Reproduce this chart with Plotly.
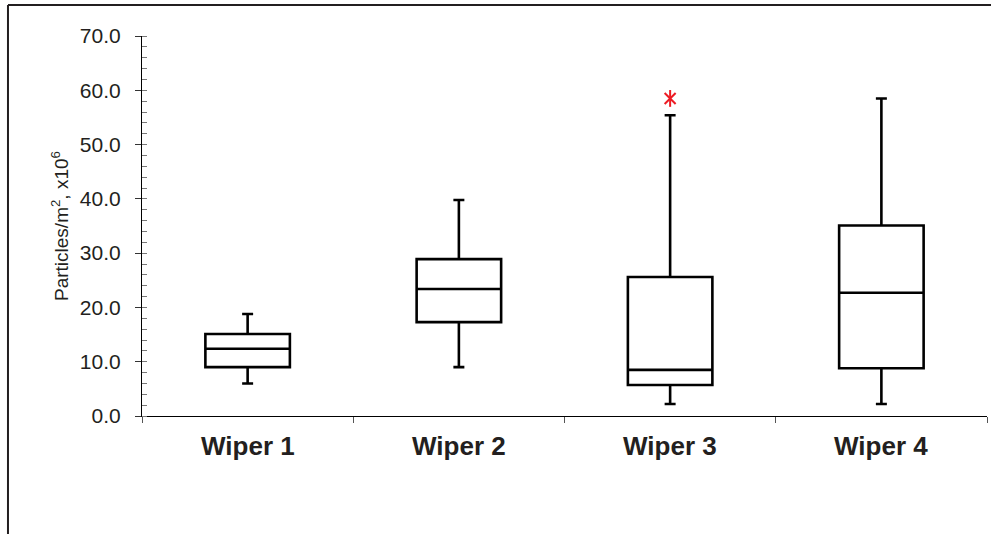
import plotly.graph_objects as go

categories = ["Wiper 1", "Wiper 2", "Wiper 3", "Wiper 4"]
lower_whisker = [6.0, 9.0, 2.2, 2.2]
q1_values = [9.0, 17.3, 5.7, 8.8]
medians = [12.4, 23.4, 8.5, 22.7]
q3_values = [15.1, 28.9, 25.6, 35.1]
upper_whisker = [18.8, 39.8, 55.4, 58.5]
outlier_category = [2]
outlier_values = [58.5]

y_ticks = [0, 10, 20, 30, 40, 50, 60, 70]
y_tick_text = [f"{v:.1f}" for v in y_ticks]

xpos = list(range(len(categories)))
boundaries = [i - 0.5 for i in range(len(categories) + 1)]

INK = "#231f20"
FONT = "Liberation Sans, Arial, sans-serif"
RED = "#ed1c24"

fig = go.Figure()
fig.add_trace(go.Box(
    x=xpos,
    q1=q1_values, median=medians, q3=q3_values,
    lowerfence=lower_whisker, upperfence=upper_whisker,
    width=0.40, whiskerwidth=0.13,
    fillcolor="white",
    line=dict(color="black", width=2.6),
    boxpoints=False,
    showlegend=False,
    hoverinfo="skip",
))
# outlier asterisk (vertical bar + x)
fig.add_trace(go.Scatter(
    x=outlier_category, y=outlier_values, mode="markers",
    marker=dict(symbol="x-thin-open", size=11, color=RED, line=dict(color=RED, width=2)),
    showlegend=False, hoverinfo="skip",
))
fig.add_trace(go.Scatter(
    x=outlier_category, y=outlier_values, mode="markers",
    marker=dict(symbol="line-ns-open", size=12, color=RED, line=dict(color=RED, width=2)),
    showlegend=False, hoverinfo="skip",
))

annotations = [
    dict(x=xv, y=0, xref="x", yref="paper", text=f"<b>{c}</b>",
         showarrow=False, yanchor="top", xanchor="center", yshift=-13,
         font=dict(family=FONT, size=26, color=INK))
    for xv, c in zip(xpos, categories)
]

fig.update_layout(
    width=991, height=534,
    margin=dict(l=142, r=4, t=36, b=118),
    paper_bgcolor="white", plot_bgcolor="white",
    font=dict(family=FONT, color=INK),
    annotations=annotations,
    xaxis=dict(
        range=[-0.5, 3.5], showgrid=False, zeroline=False,
        showline=True, linecolor="black", linewidth=1.2,
        tickmode="array", tickvals=boundaries, showticklabels=False,
        ticks="outside", ticklen=6, tickcolor="#555", tickwidth=1,
    ),
    yaxis=dict(
        range=[0, 70], showgrid=False, zeroline=False,
        showline=True, linecolor="black", linewidth=1.2,
        tickmode="array", tickvals=y_ticks, ticktext=y_tick_text,
        ticks="outside", ticklen=6, tickcolor="#333", tickwidth=1,
        ticklabelstandoff=10,
        tickfont=dict(family=FONT, size=21, color=INK),
        minor=dict(ticks="inside", dtick=2, ticklen=5, tickcolor="#777", tickwidth=1),
        title=dict(text="Particles/m<sup>2</sup>, x10<sup>6</sup>",
                   font=dict(family=FONT, size=19, color=INK), standoff=6),
    ),
    yaxis2=dict(
        overlaying="y", anchor="x", side="left",
        range=[0, 70], showgrid=False, zeroline=False, showline=False,
        tickmode="array", tickvals=y_ticks, showticklabels=False,
        ticks="inside", ticklen=5, tickcolor="#333", tickwidth=1,
    ),
    shapes=[
        dict(type="line", xref="paper", yref="paper",
             x0=-0.1586, x1=1.01, y0=1.0816, y1=1.0816,
             line=dict(color=INK, width=2)),
        dict(type="line", xref="paper", yref="paper",
             x0=-0.1586, x1=-0.1586, y0=1.0816, y1=-0.32,
             line=dict(color=INK, width=2)),
    ],
)

fig.write_html("out.html", config={"displayModeBar": False},
               post_script="document.body.style.margin='0';")
